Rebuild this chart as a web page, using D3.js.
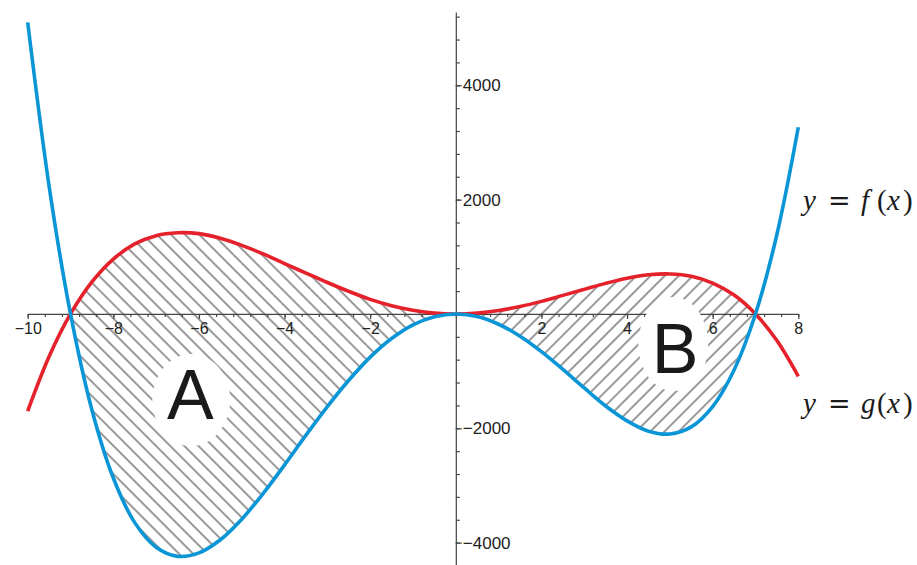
<!DOCTYPE html>
<html>
<head>
<meta charset="utf-8">
<script src="https://cdn.jsdelivr.net/npm/d3@7"></script>
<style>
  html, body { margin: 0; padding: 0; background: #fff; }
  svg { display: block; }
</style>
</head>
<body>
<svg id="chart"></svg>
<script>
// values, every 0.5 on x
const xValues = [-10, -9.5, -9, -8.5, -8, -7.5, -7, -6.5, -6, -5.5, -5, -4.5, -4, -3.5, -3, -2.5, -2, -1.5, -1, -0.5,
                 0, 0.5, 1, 1.5, 2, 2.5, 3, 3.5, 4, 4.5, 5, 5.5, 6, 6.5, 7, 7.5, 8];
const fValues = [-1700, -745, 0, 560, 960, 1225, 1370, 1420, 1405, 1325, 1200, 1050, 880, 715, 550, 395, 255, 145, 65, 15,
                 0, 15, 60, 130, 220, 325, 430, 535, 625, 685, 700, 660, 540, 330, 0, -465, -1090];
const gValues = [5100, 2235, 0, -1680, -2870, -3650, -4080, -4240, -4180, -3950, -3590, -3140, -2640, -2120, -1620, -1160, -755, -430, -190, -50,
                 0, -45, -180, -390, -660, -970, -1295, -1610, -1870, -2050, -2100, -1975, -1620, -980, 0, 1390, 3265];

const xTickLabels = [-10, -8, -6, -4, -2, 2, 4, 6, 8];
const yTickLabels = [-4000, -2000, 2000, 4000];

const regionNames = ['A', 'B'];
const regionBounds = [[-9, 0], [0, 7]];

const W = 917, H = 565;

let svg = d3.select('#chart')
    .attr('width', W)
    .attr('height', H);

let xscale = d3.scaleLinear()
    .domain([-10, 8])
    .range([27.7, 798.3]);

let yscale = d3.scaleLinear()
    .domain([-4400, 5280])
    .range([565.5, 12.1]);

const rows = xValues.map((v, i) => ({ x: v, f: fValues[i], g: gValues[i] }));

const minusFormat = d => (d < 0 ? '\u2212' + Math.abs(d) : '' + d);

let defs = svg.append('defs');

// hatch patterns: A leans "\", B leans "/"
const gap = 10;
function hatch(id, angle) {
    defs.append('pattern')
        .attr('id', id)
        .attr('patternUnits', 'userSpaceOnUse')
        .attr('width', gap)
        .attr('height', gap)
        .attr('patternTransform', `rotate(${angle})`)
        .append('line')
        .attr('x1', gap / 2).attr('y1', -1)
        .attr('x2', gap / 2).attr('y2', gap + 1)
        .attr('stroke', '#000')
        .attr('stroke-width', 0.8);
}
hatch('hatchA', -45);
hatch('hatchB', 45);

regionBounds.forEach((b, i) => {
    defs.append('clipPath')
        .attr('id', 'clip' + i)
        .append('rect')
        .attr('x', xscale(b[0]))
        .attr('y', 0)
        .attr('width', xscale(b[1]) - xscale(b[0]))
        .attr('height', H);
});

const curve = d3.curveCatmullRom.alpha(0.5);

let area = d3.area()
    .x(d => xscale(d.x))
    .y0(d => yscale(d.g))
    .y1(d => yscale(d.f))
    .curve(curve);

regionBounds.forEach((b, i) => {
    svg.append('path')
        .attr('d', area(rows))
        .attr('fill', i == 0 ? 'url(#hatchA)' : 'url(#hatchB)')
        .attr('clip-path', `url(#clip${i})`);
});

// axes crossing at the origin
const axisColor = '#444';
const minorX = d3.range(-10, 8.001, 0.4);
const minorY = d3.range(-4400, 5201, 400);

let xaxis_group = svg.append('g')
    .attr('transform', `translate(0, ${yscale(0)})`);
xaxis_group.append('g')
    .call(d3.axisBottom(xscale).tickValues(minorX).tickSize(3).tickSizeOuter(0).tickFormat(''));
xaxis_group.append('g')
    .call(d3.axisBottom(xscale).tickValues(xTickLabels).tickSize(5).tickSizeOuter(0).tickPadding(4).tickFormat(minusFormat))
    .call(g => g.select('.domain').remove());

let yaxis_group = svg.append('g')
    .attr('transform', `translate(${xscale(0)}, 0)`);
yaxis_group.append('g')
    .call(d3.axisRight(yscale).tickValues(minorY).tickSize(4).tickSizeOuter(0).tickFormat(''));
yaxis_group.append('g')
    .call(d3.axisRight(yscale).tickValues(yTickLabels).tickSize(6).tickSizeOuter(0).tickPadding(1).tickFormat(minusFormat))
    .call(g => g.select('.domain').remove());

svg.selectAll('.domain, .tick line')
    .attr('stroke', axisColor)
    .attr('stroke-width', 1.2);
xaxis_group.selectAll('text')
    .attr('font-family', 'Liberation Sans, Arial, sans-serif')
    .attr('font-size', 16)
    .attr('fill', '#222');
yaxis_group.selectAll('text')
    .attr('font-family', 'Liberation Sans, Arial, sans-serif')
    .attr('font-size', 17)
    .attr('fill', '#222');

// white patches behind the region letters
const letterSpots = [
    { name: regionNames[0], cx: -6.18, cy: -1504, rx: 39, ry: 46, tx: -6.2, ty: -1840 },
    { name: regionNames[1], cx: 5.08, cy: -525, rx: 35, ry: 47, tx: 5.12, ty: -1040 }
];

svg.selectAll('ellipse.spot')
    .data(letterSpots)
    .join('ellipse')
    .attr('class', 'spot')
    .attr('cx', d => xscale(d.cx))
    .attr('cy', d => yscale(d.cy))
    .attr('rx', d => d.rx)
    .attr('ry', d => d.ry)
    .attr('fill', '#fff');

svg.selectAll('text.region')
    .data(letterSpots)
    .join('text')
    .attr('class', 'region')
    .attr('x', d => xscale(d.tx))
    .attr('y', d => yscale(d.ty))
    .attr('text-anchor', 'middle')
    .attr('font-family', 'Liberation Sans, Arial, sans-serif')
    .attr('font-size', 70)
    .attr('fill', '#1a1a1a')
    .text(d => d.name);

// the two curves
let line_f = d3.line().x(d => xscale(d.x)).y(d => yscale(d.f)).curve(curve);
let line_g = d3.line().x(d => xscale(d.x)).y(d => yscale(d.g)).curve(curve);

svg.append('path')
    .attr('d', line_f(rows))
    .attr('fill', 'none')
    .attr('stroke', '#e5222b')
    .attr('stroke-width', 3.6);

svg.append('path')
    .attr('d', line_g(rows))
    .attr('fill', 'none')
    .attr('stroke', '#0a96d6')
    .attr('stroke-width', 3.6);

// curve labels, set glyph by glyph like the TeX output
function mathLabel(baseline, letter) {
    let t = svg.append('text')
        .attr('y', baseline)
        .attr('font-family', 'Liberation Serif, Times New Roman, serif')
        .attr('font-size', 29)
        .attr('fill', '#1a1a1a');
    const parts = [
        { s: 'y', x: 803, it: true },
        { s: '=', x: 828, it: false, fam: 'DejaVu Serif' },
        { s: letter, x: 861, it: true },
        { s: '(', x: 877, it: false },
        { s: 'x', x: 887, it: true },
        { s: ')', x: 903, it: false }
    ];
    parts.forEach(p => {
        let ts = t.append('tspan')
            .attr('x', p.x)
            .attr('font-style', p.it ? 'italic' : 'normal')
            .text(p.s);
        if (p.fam) ts.attr('font-family', p.fam).attr('font-size', 27);
    });
}
mathLabel(210, 'f');
mathLabel(413, 'g');
</script>
</body>
</html>
